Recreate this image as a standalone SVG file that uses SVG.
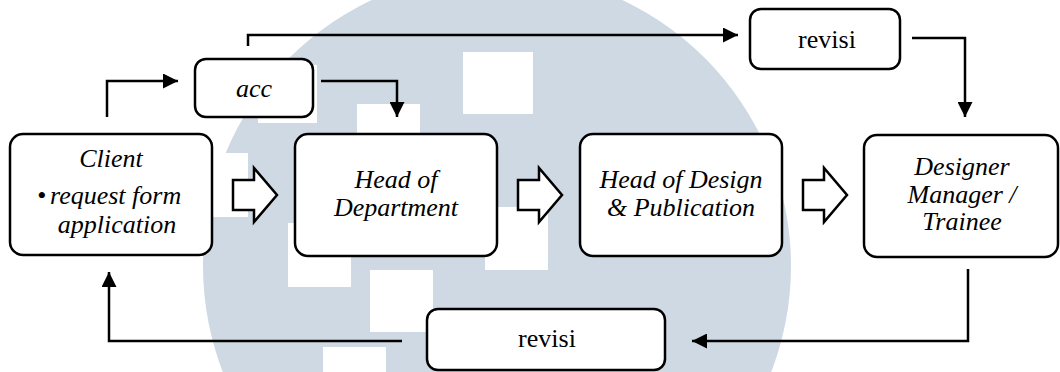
<svg xmlns="http://www.w3.org/2000/svg" width="1060" height="372" viewBox="0 0 1060 372">
<style>
text{font-family:'Liberation Serif','Times New Roman',Times,Tinos,'DejaVu Serif','Noto Serif',serif;font-size:26px;fill:#000;text-anchor:middle}
.i{font-style:italic}
.box{fill:#fff;stroke:#000;stroke-width:2.5}
.c{fill:none;stroke:#000;stroke-width:2.5}
.blk{fill:#fff;stroke:#000;stroke-width:2.5;stroke-linejoin:miter}
.wm{fill:#fff}
</style>
<defs>
<marker id="ah" markerUnits="userSpaceOnUse" markerWidth="15" markerHeight="15" refX="15" refY="7.5" orient="auto">
<path d="M0,0 L15,7.5 L0,15 Z" fill="#000"/>
</marker>
</defs>
<rect width="1060" height="372" fill="#fff"/>
<g id="watermark">
<circle cx="497" cy="266" r="294" fill="#cfd9e3"/>
<rect class="wm" x="463" y="52" width="70" height="62"/>
<rect class="wm" x="357" y="104" width="63" height="63"/>
<rect class="wm" x="258" y="65" width="59" height="58"/>
<rect class="wm" x="185" y="153" width="63" height="64"/>
<rect class="wm" x="288" y="223" width="63" height="64"/>
<rect class="wm" x="370" y="270" width="63" height="62"/>
<rect class="wm" x="323" y="347" width="63" height="63"/>
<rect class="wm" x="485" y="207" width="63" height="63"/>
</g>
<g id="client">
<rect class="box" x="10" y="134" width="202" height="121" rx="13"/>
<text class="i" x="111" y="167" font-family="Liberation Serif, serif">Client</text>
<text class="i" x="37" y="204" font-family="Liberation Serif, serif" style="text-anchor:start">•<tspan x="50">request form</tspan></text>
<text class="i" x="117" y="233" font-family="Liberation Serif, serif">application</text>
</g>
<g id="head-department">
<rect class="box" x="295" y="134" width="202" height="122" rx="13"/>
<text class="i" x="396" y="188" font-family="Liberation Serif, serif">Head of</text>
<text class="i" x="396" y="216" font-family="Liberation Serif, serif">Department</text>
</g>
<g id="head-design">
<rect class="box" x="580" y="134" width="202" height="122" rx="13"/>
<text class="i" x="681" y="188" font-family="Liberation Serif, serif">Head of Design</text>
<text class="i" x="681" y="216" font-family="Liberation Serif, serif">&amp; Publication</text>
</g>
<g id="designer">
<rect class="box" x="864" y="135" width="194" height="122" rx="13"/>
<text class="i" x="962" y="175" font-family="Liberation Serif, serif">Designer</text>
<text class="i" x="962" y="203" font-family="Liberation Serif, serif">Manager /</text>
<text class="i" x="962" y="230" font-family="Liberation Serif, serif">Trainee</text>
</g>
<g id="acc">
<rect class="box" x="195" y="59" width="118" height="58" rx="11"/>
<text class="i" x="254" y="97" font-family="Liberation Serif, serif">acc</text>
</g>
<g id="revisi-top">
<rect class="box" x="750" y="9" width="150" height="60" rx="11"/>
<text x="827" y="48" font-family="Liberation Serif, serif">revisi</text>
</g>
<g id="revisi-bottom">
<rect class="box" x="427" y="309" width="238" height="61" rx="11"/>
<text x="547" y="347" font-family="Liberation Serif, serif">revisi</text>
</g>
<g id="connectors">
<path class="c" d="M107,117 V81 H178" marker-end="url(#ah)"/>
<path class="c" d="M321,81 H397 V117" marker-end="url(#ah)"/>
<path class="c" d="M248,46 V35 H738" marker-end="url(#ah)"/>
<path class="c" d="M912,38 H965 V117" marker-end="url(#ah)"/>
<path class="c" d="M968,269 V341 H692" marker-end="url(#ah)"/>
<path class="c" d="M402,341 H109 V272" marker-end="url(#ah)"/>
<path class="blk" d="M233,180 H254 V168 L277,195 L254,222 V210 H233 Z"/>
<path class="blk" d="M518,180 H539 V168 L562,195 L539,222 V210 H518 Z"/>
<path class="blk" d="M803,180 H824 V168 L847,195 L824,222 V210 H803 Z"/>
</g>
</svg>
